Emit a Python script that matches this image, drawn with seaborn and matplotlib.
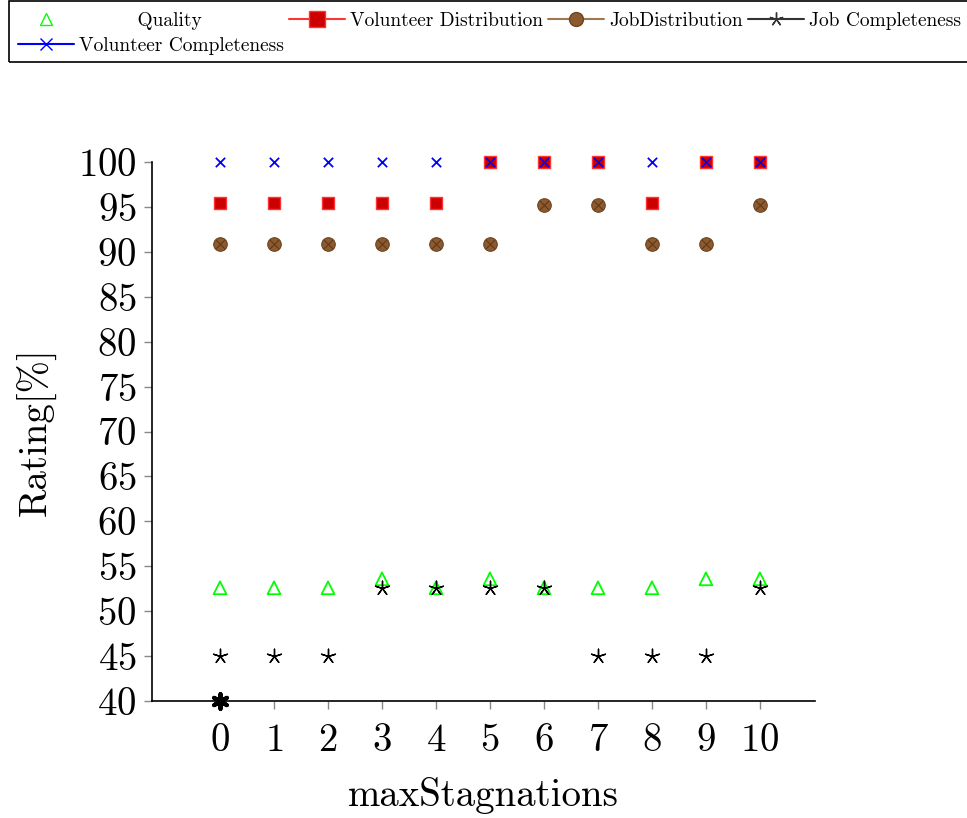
import numpy as np
import pandas as pd
import matplotlib
matplotlib.use("Agg")
import matplotlib.pyplot as plt
import seaborn as sns
from matplotlib.lines import Line2D
from matplotlib.patches import Rectangle

# values
max_stagnations = [0, 1, 2, 3, 4, 5, 6, 7, 8, 9, 10]
quality = [52.6, 52.6, 52.6, 53.6, 52.6, 53.6, 52.6, 52.6, 52.6, 53.6, 53.6]
volunteer_distribution = [95.45, 95.45, 95.45, 95.45, 95.45, 100, 100, 100, 95.45, 100, 100]
job_distribution = [90.9, 90.9, 90.9, 90.9, 90.9, 90.9, 95.2, 95.2, 90.9, 90.9, 95.2]
job_completeness = [45, 45, 45, 52.6, 52.6, 52.6, 52.6, 45, 45, 45, 52.6]
volunteer_completeness = [100, 100, 100, 100, 100, 100, 100, 100, 100, 100, 100]
extra_x = [0]
extra_y = [40]

sns.set_style("white")
plt.rcParams["font.family"] = ["cmr10", "DejaVu Serif"]
plt.rcParams["axes.formatter.use_mathtext"] = True
plt.rcParams["mathtext.fontset"] = "cm"
plt.rcParams["text.color"] = "black"
plt.rcParams["axes.labelcolor"] = "black"

df = pd.DataFrame({
    "x": max_stagnations,
    "quality": quality,
    "vdist": volunteer_distribution,
    "jdist": job_distribution,
    "jcomp": job_completeness,
    "vcomp": volunteer_completeness,
})

W, H = 967, 818
fig = plt.figure(figsize=(W / 100, H / 100), dpi=100)
ax = fig.add_axes([152 / W, 1 - 701 / H, (815 - 152) / W, (701 - 162) / H])

brown = "#8c5a2e"
star = (5, 2, 0)

sns.scatterplot(data=df, x="x", y="quality", ax=ax, marker="^", s=85,
                facecolor="none", edgecolor="#00ff00", linewidth=1.3, zorder=3, clip_on=False)
sns.scatterplot(data=df, x="x", y="vdist", ax=ax, marker="s", s=85,
                color="#cc0000", edgecolor="#ff3333", linewidth=1.0, zorder=3, clip_on=False)
sns.scatterplot(data=df, x="x", y="jdist", ax=ax, marker="o", s=95,
                color=brown, edgecolor="#6e4420", linewidth=0.8, zorder=3, clip_on=False)
sns.scatterplot(data=df, x="x", y="jdist", ax=ax, marker="x", s=40,
                color="#5e3a1a", linewidth=0.8, zorder=3, clip_on=False)
sns.scatterplot(data=df, x="x", y="jcomp", ax=ax, marker=star, s=110,
                color="black", linewidth=1.0, zorder=4, clip_on=False)
sns.scatterplot(data=df, x="x", y="vcomp", ax=ax, marker="x", s=45,
                color="blue", linewidth=1.3, zorder=5, clip_on=False)
sns.scatterplot(x=extra_x, y=extra_y, ax=ax, marker=(6, 2, 0), s=110,
                color="black", linewidth=3.0, zorder=6, clip_on=False)

ax.set_xlim(-1.26, 11.02)
ax.set_ylim(40, 100)
ax.set_xticks(max_stagnations)
ax.set_yticks(np.arange(40, 101, 5))
ax.tick_params(axis="both", labelsize=28, direction="out", length=6,
               width=1.0, color="#888888", labelcolor="black",
               left=True, bottom=True)
ax.tick_params(axis="y", pad=5)
ax.tick_params(axis="x", pad=10)
for side in ["top", "right"]:
    ax.spines[side].set_visible(False)
for side in ["left", "bottom"]:
    ax.spines[side].set_color("black")
    ax.spines[side].set_linewidth(1.2)
ax.set_xlabel("maxStagnations", fontsize=28, labelpad=13)
ax.set_ylabel("Rating[%]", fontsize=28, labelpad=15)

# legend handles, ordered so matplotlib's column filling gives row order
h_q = Line2D([], [], linestyle="none", marker="^", markersize=9,
             markerfacecolor="none", markeredgecolor="#00ff00")
h_vd = Line2D([], [], color="#ff3333", marker="s", markersize=11,
              markerfacecolor="#cc0000", markeredgecolor="#ff3333", lw=1.5)
h_jd = Line2D([], [], color="#a07850", marker="o", markersize=10,
              markerfacecolor=brown, markeredgecolor="#6e4420", lw=1.5)
h_jc = Line2D([], [], color="#333333", marker=star, markersize=10, lw=1.5)
h_vc = Line2D([], [], color="blue", marker="x", markersize=8, lw=1.5)
handles = [h_q, h_vc, h_vd, h_jd, h_jc]
labels = ["         Quality", "Volunteer Completeness",
          "Volunteer Distribution", "JobDistribution", "Job Completeness"]
leg = fig.legend(handles, labels, loc="upper left", ncol=4,
                 bbox_to_anchor=(12 / W, 1 - 6 / H),
                 fontsize=14, frameon=False, handlelength=2.9,
                 handletextpad=0.25, columnspacing=0.25, borderpad=0.3,
                 borderaxespad=0, labelspacing=0.35)
fig.patches.append(Rectangle((9 / W, 1 - 62 / H), 1.0, 61 / H,
                             transform=fig.transFigure, fill=False,
                             edgecolor="black", linewidth=1.2))

fig.savefig("out.png", dpi=100)
